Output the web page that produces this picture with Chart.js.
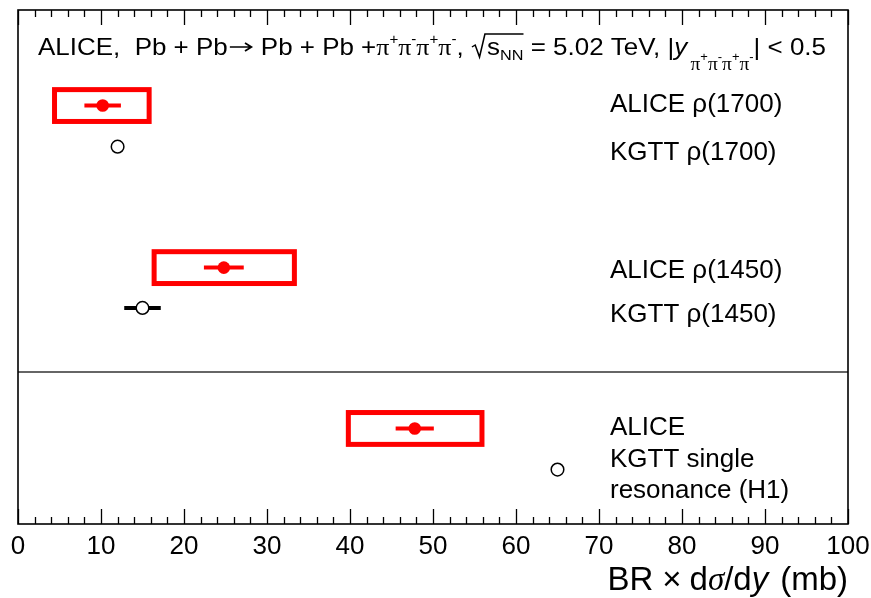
<!DOCTYPE html>
<html lang="en">
<head>
<meta charset="UTF-8" />
<title>ALICE 4pi cross sections</title>
<script src="https://cdn.jsdelivr.net/npm/chart.js"></script>
<style>
  html, body { margin: 0; padding: 0; background: #fff; }
</style>
</head>
<body>
<canvas id="my-chart" width="871" height="598"></canvas>
<script>
const SANS = '"Liberation Sans", Arial, Helvetica, sans-serif';
const SERIF = '"Liberation Serif", "Times New Roman", serif';

// values (mb)
const aliceValue = [10.2, 24.8, 47.8];
const aliceStat = [2.2, 2.4, 2.3];
const aliceSysLow = [4.4, 16.4, 39.8];
const aliceSysHigh = [15.8, 33.3, 55.9];
const kgttValue = [12.0, 15.0, 65.0];
const kgttErr = [0, 2.2, 0];

// row text on the right
const rowLabels = ["ALICE ρ(1700)", "KGTT ρ(1700)", "ALICE ρ(1450)", "KGTT ρ(1450)",
                   "ALICE", "KGTT single", "resonance (H1)"];

// layout: vertical positions in units of the hidden y scale (0 = top)
const aliceRow = [2.37, 6.39, 10.38];
const kgttRow = [3.39, 7.39, 11.4];
const rowLabelY = [2.53, 3.72, 6.65, 7.74, 10.55, 11.34, 12.11];
const panelSplit = 8.98;
const sysHalf = 0.395;

// draw a list of text runs, optionally squeezed/stretched to a width
function drawRuns(ctx, runs, x0, base, targetWidth, alignRight) {
  let w = 0;
  runs.forEach(r => {
    if (r.t !== undefined) { ctx.font = r.font; r.w = ctx.measureText(r.t).width; }
    else r.w = r.gap;
    w += r.w;
  });
  const s = targetWidth ? targetWidth / w : 1;
  ctx.save();
  ctx.translate(alignRight ? x0 - w * s : x0, base);
  ctx.scale(s, 1);
  ctx.fillStyle = "#000";
  ctx.strokeStyle = "#000";
  ctx.textBaseline = "alphabetic";
  ctx.textAlign = "left";
  let x = 0;
  runs.forEach((r, i) => {
    if (r.draw) r.draw(ctx, x, runs, i);
    else if (r.t !== undefined) { ctx.font = r.font; ctx.fillText(r.t, x, r.dy || 0); }
    x += r.w;
  });
  ctx.restore();
}

const chartDecor = {
  id: "chartDecor",
  beforeDatasetsDraw(chart) {
    const { ctx, scales: { x, y } } = chart;
    ctx.save();
    // systematic boxes
    ctx.strokeStyle = "#ff0000";
    ctx.lineWidth = 5;
    aliceSysLow.forEach((lo, i) => {
      const x1 = x.getPixelForValue(lo), x2 = x.getPixelForValue(aliceSysHigh[i]);
      const y1 = y.getPixelForValue(aliceRow[i] - sysHalf), y2 = y.getPixelForValue(aliceRow[i] + sysHalf);
      ctx.strokeRect(x1, y1, x2 - x1, y2 - y1);
    });
    // error bars
    ctx.lineWidth = 4;
    aliceValue.forEach((v, i) => {
      const py = y.getPixelForValue(aliceRow[i]);
      ctx.beginPath();
      ctx.moveTo(x.getPixelForValue(v - aliceStat[i]), py);
      ctx.lineTo(x.getPixelForValue(v + aliceStat[i]), py);
      ctx.stroke();
    });
    ctx.strokeStyle = "#000";
    kgttValue.forEach((v, i) => {
      if (!kgttErr[i]) return;
      const py = y.getPixelForValue(kgttRow[i]);
      ctx.beginPath();
      ctx.moveTo(x.getPixelForValue(v - kgttErr[i]), py);
      ctx.lineTo(x.getPixelForValue(v + kgttErr[i]), py);
      ctx.stroke();
    });
    ctx.restore();
  },
  afterDatasetsDraw(chart) {
    const { ctx, chartArea: a, scales: { x, y } } = chart;
    ctx.save();
    // divider between panels
    ctx.strokeStyle = "#333";
    ctx.lineWidth = 1.5;
    const py = y.getPixelForValue(panelSplit);
    ctx.beginPath(); ctx.moveTo(a.left, py); ctx.lineTo(a.right, py); ctx.stroke();
    // frame
    ctx.strokeStyle = "#000";
    ctx.lineWidth = 1.6;
    ctx.strokeRect(a.left, a.top, a.right - a.left, a.bottom - a.top);
    // inward ticks, top and bottom
    ctx.lineWidth = 1.3;
    for (let v = 0; v <= 100; v += 2) {
      const px = Math.round(x.getPixelForValue(v)) + 0.5;
      const len = v % 10 === 0 ? 15 : 7;
      ctx.beginPath();
      ctx.moveTo(px, a.top); ctx.lineTo(px, a.top + len);
      ctx.moveTo(px, a.bottom); ctx.lineTo(px, a.bottom - len);
      ctx.stroke();
    }
    ctx.restore();
  },
  afterDraw(chart) {
    const { ctx, scales: { y } } = chart;
    ctx.save();
    // right-hand labels
    ctx.fillStyle = "#000";
    ctx.font = "26px " + SANS;
    ctx.textBaseline = "alphabetic";
    rowLabels.forEach((t, i) => ctx.fillText(t, 610, y.getPixelForValue(rowLabelY[i])));

    // header line
    const f = (px, extra) => (extra || "") + px + "px ";
    const main = f(24) + SANS, sup = f(14) + SANS, pi = f(24) + SERIF;
    const sub = f(18) + SERIF, subSup = f(12) + SANS, ital = f(24, "italic ") + SANS;
    const nn = f(15) + SANS;
    const sqrtRun = {
      gap: 15,
      draw(c, x0, runs, i) {
        const over = runs[i + 1].w + runs[i + 2].w + 1;
        c.lineWidth = 1.4;
        c.beginPath();
        c.moveTo(x0 + 1, -8); c.lineTo(x0 + 4, -10); c.lineTo(x0 + 8, 2);
        c.lineTo(x0 + 13, -21); c.lineTo(x0 + 14 + over, -21);
        c.stroke();
      }
    };
    const arrowRun = {
      gap: 24,
      draw(c, x0) {
        c.lineWidth = 1.6;
        c.beginPath();
        c.moveTo(x0 + 2, -8); c.lineTo(x0 + 22, -8);
        c.moveTo(x0 + 16, -12); c.lineTo(x0 + 22, -8); c.lineTo(x0 + 16, -4);
        c.stroke();
      }
    };
    const header = [
      { t: "ALICE,  Pb + Pb", font: main },
      arrowRun,
      { t: " Pb + Pb +", font: main },
      { t: "π", font: pi }, { t: "+", font: sup, dy: -11 },
      { t: "π", font: pi }, { t: "-", font: sup, dy: -11 },
      { t: "π", font: pi }, { t: "+", font: sup, dy: -11 },
      { t: "π", font: pi }, { t: "-", font: sup, dy: -11 },
      { t: ", ", font: main },
      sqrtRun,
      { t: "s", font: main },
      { t: "NN", font: nn, dy: 5 },
      { t: " = 5.02 TeV, |", font: main },
      { t: "y", font: ital },
      { gap: 3 },
      { t: "π", font: sub, dy: 15 }, { t: "+", font: subSup, dy: 6 },
      { t: "π", font: sub, dy: 15 }, { t: "-", font: subSup, dy: 6 },
      { t: "π", font: sub, dy: 15 }, { t: "+", font: subSup, dy: 6 },
      { t: "π", font: sub, dy: 15 }, { t: "-", font: subSup, dy: 6 },
      { t: "| < 0.5", font: main }
    ];
    drawRuns(ctx, header, 38, 55, 788, false);

    // x axis title
    const tf = "33px " + SANS;
    const title = [
      { t: "BR", font: tf },
      { gap: 9 },
      { t: "×", font: tf },
      { gap: 8 },
      { t: "d", font: tf },
      { t: "σ", font: "italic 33px " + SERIF },
      { t: "/d", font: tf },
      { t: "y", font: "italic 33px " + SANS },
      { gap: 12 },
      { t: "(mb)", font: tf }
    ];
    drawRuns(ctx, title, 848, 590, 0, true);
    ctx.restore();
  }
};

const ctx = document.getElementById("my-chart").getContext("2d");
const myChart = new Chart(ctx, {
  type: "scatter",
  data: {
    datasets: [
      {
        label: "ALICE",
        data: aliceValue.map((v, i) => ({ x: v, y: aliceRow[i] })),
        pointRadius: 6.3,
        pointBackgroundColor: "#ff0000",
        pointBorderColor: "#ff0000",
        pointBorderWidth: 0
      },
      {
        label: "KGTT",
        data: kgttValue.map((v, i) => ({ x: v, y: kgttRow[i] })),
        pointRadius: 6.3,
        pointBackgroundColor: "#ffffff",
        pointBorderColor: "#000000",
        pointBorderWidth: 1.5
      }
    ]
  },
  options: {
    responsive: false,
    devicePixelRatio: 1,
    animation: false,
    layout: { padding: { left: 18, right: 23, top: 10, bottom: 0 } },
    plugins: { legend: { display: false }, tooltip: { enabled: false } },
    scales: {
      x: {
        type: "linear",
        min: 0,
        max: 100,
        grid: { display: false, drawTicks: false },
        border: { display: false },
        ticks: {
          stepSize: 10,
          padding: 7,
          color: "#000",
          maxRotation: 0,
          font: { family: SANS, size: 26 }
        },
        afterFit(scale) {
          scale.height = 74;
          scale.paddingLeft = 0;
          scale.paddingRight = 0;
        }
      },
      y: {
        type: "linear",
        display: false,
        reverse: true,
        min: 0,
        max: 12.75
      }
    }
  },
  plugins: [chartDecor]
});
</script>
</body>
</html>
